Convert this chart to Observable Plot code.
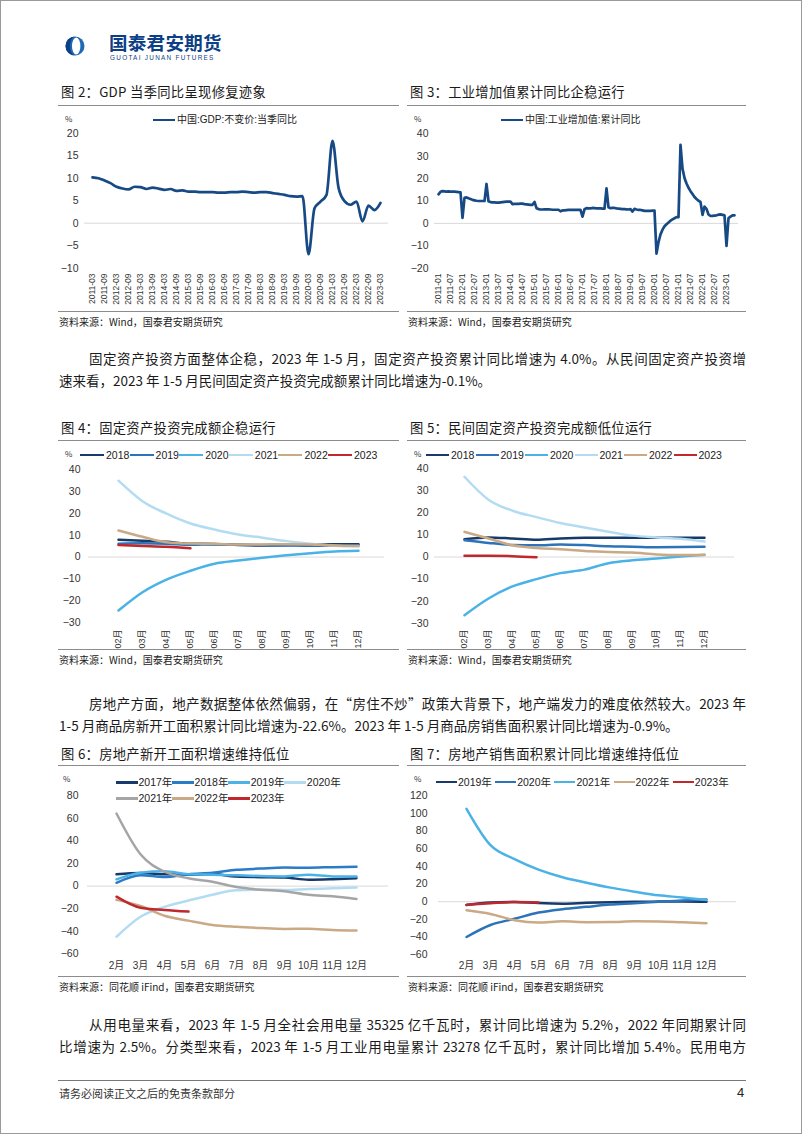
<!DOCTYPE html>
<html><head><meta charset="utf-8">
<script src="https://cdn.jsdelivr.net/npm/d3@7"></script>
<script src="https://cdn.jsdelivr.net/npm/@observablehq/plot@0.6"></script>
<style>
html,body{margin:0;padding:0;background:#fff;}
#page{position:relative;width:802px;height:1134px;overflow:hidden;box-sizing:border-box;border:1px solid #9a9a9a;font-family:"Noto Sans CJK SC",sans-serif;color:#1a1a1a;background:#fff;}
.abs{position:absolute;white-space:nowrap;}
.title{font-size:13.3px;letter-spacing:0.3px;line-height:16px;color:#1a1a1a;}
.hr{position:absolute;height:0;border-top:1px solid #8c8c8c;}
.src{font-size:10px;line-height:12px;color:#222;}
.para{position:absolute;left:58px;width:687px;font-size:13.5px;line-height:22px;height:22px;overflow:visible;color:#1a1a1a;}
.just{text-align:justify;text-align-last:justify;}
.ind{text-indent:30px;}
.lg{position:absolute;white-space:nowrap;font-family:"Liberation Sans","Noto Sans CJK SC",sans-serif;font-size:10.5px;line-height:12px;color:#222;}
.sw{position:absolute;height:2.6px;}
</style>
</head><body>
<div id="page"></div>
<script>
// ---------------- DATA ----------------
// Fig 2: GDP constant price, quarterly yoy (%), 2011Q1 .. 2023Q1
const gdpStartYear = 2011;
const gdpYoY = [10.2,10.0,9.5,8.9, 8.1,7.7,7.5,8.1, 8.0,7.6,7.9,7.7, 7.4,7.6,7.2,7.3, 7.0,7.0,6.9,6.9,
  6.9,6.8,6.8,6.9, 6.9,7.0,6.9,6.8, 6.9,6.9,6.7,6.5, 6.3,6.0,5.9,6.0, -6.9,3.3,4.8,6.3,
  18.3,7.9,4.9,4.1, 4.8,0.4,3.9,2.9, 4.5];
const gdpTicks = ["2011-03","2011-09","2012-03","2012-09","2013-03","2013-09","2014-03","2014-09",
  "2015-03","2015-09","2016-03","2016-09","2017-03","2017-09","2018-03","2018-09","2019-03","2019-09",
  "2020-03","2020-09","2021-03","2021-09","2022-03","2022-09","2023-03"];
const gdpLegend = "中国:GDP:不变价:当季同比";

// Fig 3: industrial value added, cumulative yoy (%), monthly 2011-01 .. 2023-05
const iavStartYear = 2011;
const iavCum = [
  13.0,14.1,14.4,14.3,14.2,14.3,14.2,14.2,14.2,14.1,14.0,13.9,
  2.5,11.4,11.6,11.2,10.9,10.5,10.3,10.1,10.0,10.0,10.0,10.0,
  17.6,9.9,9.5,9.4,9.4,9.3,9.3,9.4,9.5,9.6,9.7,9.7,
  9.7,8.6,8.7,8.7,8.7,8.8,8.8,8.6,8.5,8.4,8.3,8.3,
  9.6,6.8,6.4,6.2,6.2,6.3,6.3,6.3,6.2,6.1,6.1,6.1,
  6.1,5.4,5.8,5.8,5.9,6.0,6.0,6.0,6.0,6.0,6.0,6.0,
  3.0,6.3,6.8,6.7,6.7,6.9,6.8,6.7,6.7,6.7,6.6,6.6,
  15.6,7.2,6.8,6.9,6.9,6.7,6.6,6.5,6.4,6.4,6.3,6.2,
  6.4,5.3,6.5,6.2,6.0,6.0,5.8,5.6,5.6,5.6,5.6,5.7,
  5.7,-13.5,-8.4,-4.9,-2.8,-1.3,-0.4,0.4,1.2,1.8,2.3,2.8,
  2.8,35.1,24.5,20.3,17.8,15.9,14.4,13.1,11.8,10.9,10.1,9.6,
  3.8,7.5,6.5,4.0,3.3,3.4,3.5,3.6,3.9,4.0,3.8,3.6,
  -10.0,2.4,3.0,3.6,3.6];
const iavTicks = ["2011-01","2011-07","2012-01","2012-07","2013-01","2013-07","2014-01","2014-07",
  "2015-01","2015-07","2016-01","2016-07","2017-01","2017-07","2018-01","2018-07","2019-01","2019-07",
  "2020-01","2020-07","2021-01","2021-07","2022-01","2022-07","2023-01"];
const iavLegend = "中国:工业增加值:累计同比";

// Fig 4 / Fig 5: months
const faiMonths = ["02月","03月","04月","05月","06月","07月","08月","09月","10月","11月","12月"];
const faiYears = ["2018","2019","2020","2021","2022","2023"];
const fai2018 = [7.9,7.5,7.0,6.1,6.0,5.5,5.3,5.4,5.7,5.9,5.9];
const fai2019 = [6.1,6.3,6.1,5.6,5.8,5.7,5.5,5.4,5.2,5.2,5.4];
const fai2020 = [-24.5,-16.1,-10.3,-6.3,-3.1,-1.6,-0.3,0.8,1.8,2.6,2.9];
const fai2021 = [35.0,25.6,19.9,15.4,12.6,10.3,8.9,7.3,6.1,5.2,4.9];
const fai2022 = [12.2,9.3,6.8,6.2,6.1,5.7,5.8,5.9,5.8,5.3,5.1];
const fai2023 = [5.5,5.1,4.7,4.0];

const pfai2018 = [8.1,8.9,8.4,7.8,8.4,8.7,8.7,8.7,8.7,8.7,8.7];
const pfai2019 = [7.6,6.4,5.5,5.3,5.7,5.4,4.9,4.7,4.4,4.5,4.7];
const pfai2020 = [-26.4,-18.8,-13.3,-10.0,-7.3,-5.7,-2.8,-1.5,-0.7,0.2,1.0];
const pfai2021 = [36.4,26.0,21.0,18.1,15.4,13.4,11.5,9.7,8.9,8.3,7.0];
const pfai2022 = [11.4,8.4,5.3,4.1,3.5,2.7,2.3,2.0,1.2,0.9,0.9];
const pfai2023 = [0.6,0.6,0.4,-0.1];

// Fig 6 / Fig 7
const reMonths = ["2月","3月","4月","5月","6月","7月","8月","9月","10月","11月","12月"];
const startYears = ["2017年","2018年","2019年","2020年","2021年","2022年","2023年"];
const start2017 = [10.4,11.6,10.5,10.1,10.6,8.4,7.9,7.6,5.6,6.1,7.0];
const start2018 = [2.9,9.7,8.0,10.5,11.8,14.4,15.5,16.4,16.3,16.8,17.2];
const start2019 = [6.0,11.9,13.1,10.5,10.1,9.5,8.9,8.6,10.0,8.6,8.5];
const start2020 = [-44.9,-27.2,-18.4,-12.8,-7.6,-3.6,-3.3,-3.4,-2.6,-2.0,-1.2];
const start2021 = [64.3,28.2,12.8,6.9,3.8,-0.9,-3.2,-4.5,-7.7,-9.1,-11.4];
const start2022 = [-12.2,-17.5,-26.3,-30.6,-34.4,-36.1,-37.2,-38.0,-37.8,-38.9,-39.4];
const start2023 = [-9.4,-19.2,-21.2,-22.6];

const salesYears = ["2019年","2020年","2021年","2022年","2023年"];
const sales2019 = [-3.6,-0.9,-0.3,-1.6,-2.2,-1.3,-0.6,-0.1,0.1,0.2,-0.1];
const sales2020 = [-39.9,-26.3,-19.3,-12.3,-8.4,-5.8,-3.3,-1.8,0.0,1.3,2.6];
const sales2021 = [104.9,63.8,48.1,36.3,27.7,21.5,15.9,11.3,7.2,4.8,1.9];
const sales2022 = [-9.6,-13.8,-20.9,-23.6,-22.2,-23.1,-23.0,-22.2,-22.3,-23.3,-24.3];
const sales2023 = [-3.6,-1.8,-0.4,-0.9];

// colours
const navy = "#173a6b", mid = "#2d73b8", sky = "#4bb2e6", pale = "#b3dcf2", tan = "#caa985", red = "#c0282d", grey = "#a5a5a5";
const faiColors = [navy, mid, sky, pale, tan, red];
const startColors = [navy, "#2a7cc7", sky, pale, grey, tan, red];
const salesColors = [navy, mid, sky, tan, red];
const singleColor = "#174a85";

// ---------------- LAYOUT HELPERS ----------------
const page = document.getElementById("page");
function el(tag, cls, css, text) {
  const e = document.createElement(tag);
  if (cls) e.className = cls;
  if (css) e.style.cssText = css;
  if (text != null) e.textContent = text;
  page.appendChild(e);
  return e;
}
function place(node, left, top) {
  const d = el("div", null, `position:absolute;left:${left}px;top:${top}px;`);
  d.appendChild(node);
}
function legend(labels, colors, {x0, pitch, y, len, off, perRow = 99, rowGap = 0, cls = "lg", fs}) {
  labels.forEach((lab, i) => {
    const col = i % perRow, row = Math.floor(i / perRow);
    const x = x0 + col * pitch, yy = y + row * rowGap;
    el("div", "sw", `left:${x}px;top:${yy - 1.3}px;width:${len}px;background:${colors[i]};`);
    el("div", cls, `left:${x + off}px;top:${yy - 6.5}px;${fs ? "font-size:" + fs + "px;" : ""}`, lab);
  });
}
const plotStyle = {background: "transparent", color: "#333", fontFamily: "'Liberation Sans','Noto Sans CJK SC',sans-serif", overflow: "visible"};

// ---------------- HEADER ----------------
(function logo() {
  const ns = "http://www.w3.org/2000/svg";
  const s = document.createElementNS(ns, "svg");
  s.setAttribute("width", 22); s.setAttribute("height", 22);
  s.innerHTML = `<circle cx="11" cy="11" r="9.5" fill="#1f69b5"/>
    <path d="M11 1.5 A9.5 9.5 0 0 0 11 20.5 A5 9.5 0 0 1 11 1.5Z" fill="#0d3f86"/>
    <ellipse cx="12.2" cy="11" rx="4.2" ry="8.6" fill="#fff"/>`;
  place(s, 63, 34);
})();
el("div", "abs", "left:108px;top:32px;font-size:18.5px;font-weight:700;color:#0d3f86;letter-spacing:0.3px;line-height:19px;height:19px;", "国泰君安期货");
el("div", "abs", "left:109px;top:52.5px;font-family:'Liberation Sans',sans-serif;font-size:6.4px;color:#0d3f86;letter-spacing:1.28px;line-height:7px;height:7px;", "GUOTAI JUNAN FUTURES");

// ---------------- TITLES / RULES / SOURCES ----------------
function frame(left, right, titleY, lineY, srcLineY, title, src) {
  el("div", "abs title", `left:${left + 3}px;top:${titleY - 8}px;`, title);
  el("div", "hr", `left:${left}px;top:${lineY}px;width:${right - left}px;`);
  el("div", "hr", `left:${left}px;top:${srcLineY}px;width:${right - left}px;`);
  el("div", "abs src", `left:${left + 1}px;top:${srcLineY + 5}px;`, src);
}
const srcWind = "资料来源：Wind，国泰君安期货研究";
const srcIfind = "资料来源：同花顺 iFind，国泰君安期货研究";
frame(57, 398, 91, 104, 310, "图 2：GDP 当季同比呈现修复迹象", srcWind);
frame(406, 745, 91, 104, 310, "图 3：工业增加值累计同比企稳运行", srcWind);
frame(57, 398, 427, 439, 648, "图 4：固定资产投资完成额企稳运行", srcWind);
frame(406, 745, 427, 439, 648, "图 5：民间固定资产投资完成额低位运行", srcWind);
frame(57, 398, 753, 764, 975, "图 6：房地产新开工面积增速维持低位", srcIfind);
frame(406, 745, 753, 764, 975, "图 7：房地产销售面积累计同比增速维持低位", srcIfind);

// ---------------- PARAGRAPHS ----------------
function para(y, text, cls) { el("div", "para " + cls, `top:${y - 11}px;`, text); }
para(357, "固定资产投资方面整体企稳，2023 年 1-5 月，固定资产投资累计同比增速为 4.0%。从民间固定资产投资增", "just ind");
para(379, "速来看，2023 年 1-5 月民间固定资产投资完成额累计同比增速为-0.1%。", "");
para(702, "房地产方面，地产数据整体依然偏弱，在“房住不炒”政策大背景下，地产端发力的难度依然较大。2023 年", "just ind");
para(724, "1-5 月商品房新开工面积累计同比增速为-22.6%。2023 年 1-5 月商品房销售面积累计同比增速为-0.9%。", "");
para(1023, "从用电量来看，2023 年 1-5 月全社会用电量 35325 亿千瓦时，累计同比增速为 5.2%，2022 年同期累计同", "just ind");
para(1045, "比增速为 2.5%。分类型来看，2023 年 1-5 月工业用电量累计 23278 亿千瓦时，累计同比增加 5.4%。民用电方", "just");

// footer
el("div", "hr", "left:57px;top:1079px;width:688px;border-top-color:#777;");
el("div", "abs", "left:58px;top:1085px;font-size:11px;line-height:14px;color:#333;", "请务必阅读正文之后的免责条款部分");
el("div", "abs", "left:736px;top:1084px;font-size:13px;line-height:16px;color:#222;font-family:'Liberation Sans',sans-serif;", "4");

// ---------------- CHART 2: GDP ----------------
const gdpCats = gdpYoY.map((_, i) => `${gdpStartYear + Math.floor(i / 4)}-${String((i % 4) * 3 + 3).padStart(2, "0")}`);
const gdpRows = gdpYoY.map((v, i) => ({t: gdpCats[i], v}));
place(Plot.plot({
  width: 350, height: 200, marginLeft: 33, marginRight: 13, marginTop: 0, marginBottom: 40,
  style: plotStyle,
  x: {type: "point", domain: gdpCats, range: [35, 334]},
  y: {domain: [-10, 20], range: [156.7, 21.7]},
  marks: [
    Plot.ruleY([0], {stroke: "#d9d9d9"}),
    Plot.axisY({ticks: [-10, -5, 0, 5, 10, 15, 20], tickSize: 0, tickPadding: 6, label: null, fontSize: 10.5}),
    Plot.axisX({ticks: gdpTicks, tickRotate: -90, tickSize: 0, tickPadding: 2, label: null, fontSize: 8.5}),
    Plot.line(gdpRows, {x: "t", y: "v", stroke: singleColor, strokeWidth: 2.7, curve: "monotone-x"})
  ]
}), 50, 110);
el("div", "abs", "left:64px;top:113px;font-size:8px;line-height:10px;color:#333;", "%");
legend([gdpLegend], [singleColor], {x0: 152, pitch: 0, y: 119, len: 22, off: 24, fs: 10});

// ---------------- CHART 3: IAV ----------------
const iavCats = iavCum.map((_, i) => `${iavStartYear + Math.floor(i / 12)}-${String(i % 12 + 1).padStart(2, "0")}`);
const iavRows = iavCum.map((v, i) => ({t: iavCats[i], v}));
place(Plot.plot({
  width: 350, height: 200, marginLeft: 33, marginRight: 13, marginTop: 0, marginBottom: 40,
  style: plotStyle,
  x: {type: "point", domain: iavCats, range: [35, 35 + 2.028 * (iavCats.length - 1)]},
  y: {domain: [-20, 40], range: [156.7, 22.3]},
  marks: [
    Plot.ruleY([0], {stroke: "#d9d9d9"}),
    Plot.axisY({ticks: [-20, -10, 0, 10, 20, 30, 40], tickSize: 0, tickPadding: 6, label: null, fontSize: 10.5}),
    Plot.axisX({ticks: iavTicks, tickRotate: -90, tickSize: 0, tickPadding: 2, label: null, fontSize: 8.5}),
    Plot.line(iavRows, {x: "t", y: "v", stroke: singleColor, strokeWidth: 2.7})
  ]
}), 400, 110);
el("div", "abs", "left:413px;top:113px;font-size:8px;line-height:10px;color:#333;", "%");
legend([iavLegend], [singleColor], {x0: 500, pitch: 0, y: 119, len: 22, off: 24, fs: 10});

// ---------------- YEAR CHARTS ----------------
function yearChart({months, series, years, colors, height, mL, mR, mB, xRange, yDomain, yRange, yTicks, tickPad, rotate}) {
  const rows = [];
  years.forEach((yr, i) => series[i].forEach((v, j) => rows.push({m: months[j], v, yr})));
  return Plot.plot({
    width: 350, height, marginLeft: mL, marginRight: mR, marginTop: 0, marginBottom: mB,
    style: plotStyle,
    x: {type: "point", domain: months, range: xRange},
    y: {domain: yDomain, range: yRange},
    color: {domain: years, range: colors},
    marks: [
      Plot.ruleY([0], {stroke: "#d9d9d9"}),
      Plot.axisY({ticks: yTicks, tickSize: 0, tickPadding: tickPad, label: null, fontSize: 10.5}),
      rotate
        ? Plot.axisX({tickRotate: -90, tickSize: 0, tickPadding: 2, label: null, fontSize: 9})
        : Plot.axisX({tickSize: 0, tickPadding: 6, label: null, fontSize: 10}),
      Plot.line(rows, {x: "m", y: "v", z: "yr", stroke: "yr", strokeWidth: 2.5, curve: "monotone-x"})
    ]
  });
}
const t30_40 = [-30, -20, -10, 0, 10, 20, 30, 40];
place(yearChart({months: faiMonths, series: [fai2018, fai2019, fai2020, fai2021, fai2022, fai2023], years: faiYears, colors: faiColors,
  height: 188, mL: 37, mR: 17, mB: 22, xRange: [52.7, 320.7], yDomain: [-30, 40], yRange: [161, 8.3], yTicks: t30_40, tickPad: 8, rotate: true}), 50, 460);
el("div", "abs", "left:64px;top:448px;font-size:8px;line-height:10px;color:#333;", "%");
legend(faiYears, faiColors, {x0: 79, pitch: 49.6, y: 454, len: 24, off: 26});

place(yearChart({months: faiMonths, series: [pfai2018, pfai2019, pfai2020, pfai2021, pfai2022, pfai2023], years: faiYears, colors: faiColors,
  height: 188, mL: 33, mR: 17, mB: 22, xRange: [49.3, 316.7], yDomain: [-30, 40], yRange: [161.7, 7.3], yTicks: t30_40, tickPad: 6, rotate: true}), 400, 460);
el("div", "abs", "left:413px;top:448px;font-size:8px;line-height:10px;color:#333;", "%");
legend(faiYears, faiColors, {x0: 425, pitch: 49.5, y: 454, len: 23, off: 25});

place(yearChart({months: reMonths, series: [start2017, start2018, start2019, start2020, start2021, start2022, start2023], years: startYears, colors: startColors,
  height: 185, mL: 36, mR: 13, mB: 21, xRange: [48.3, 322.7], yDomain: [-60, 80], yRange: [162.3, 4.3], yTicks: [-60, -40, -20, 0, 20, 40, 60, 80], tickPad: 9, rotate: false}), 50, 790);
el("div", "abs", "left:62px;top:773px;font-size:8px;line-height:10px;color:#333;", "%");
legend(startYears, startColors, {x0: 115, pitch: 56.1, y: 781.7, len: 22, off: 22.5, perRow: 4, rowGap: 15.6});

place(yearChart({months: reMonths, series: [sales2019, sales2020, sales2021, sales2022, sales2023], years: salesYears, colors: salesColors,
  height: 185, mL: 37, mR: 15, mB: 21, xRange: [49.3, 320], yDomain: [-60, 120], yRange: [163.3, 4], yTicks: [-60, -40, -20, 0, 20, 40, 60, 80, 100, 120], tickPad: 11, rotate: false}), 400, 790);
el("div", "abs", "left:413px;top:773px;font-size:8px;line-height:10px;color:#333;", "%");
legend(salesYears, salesColors, {x0: 435, pitch: 59.2, y: 781, len: 21, off: 22});
</script>
</body></html>
